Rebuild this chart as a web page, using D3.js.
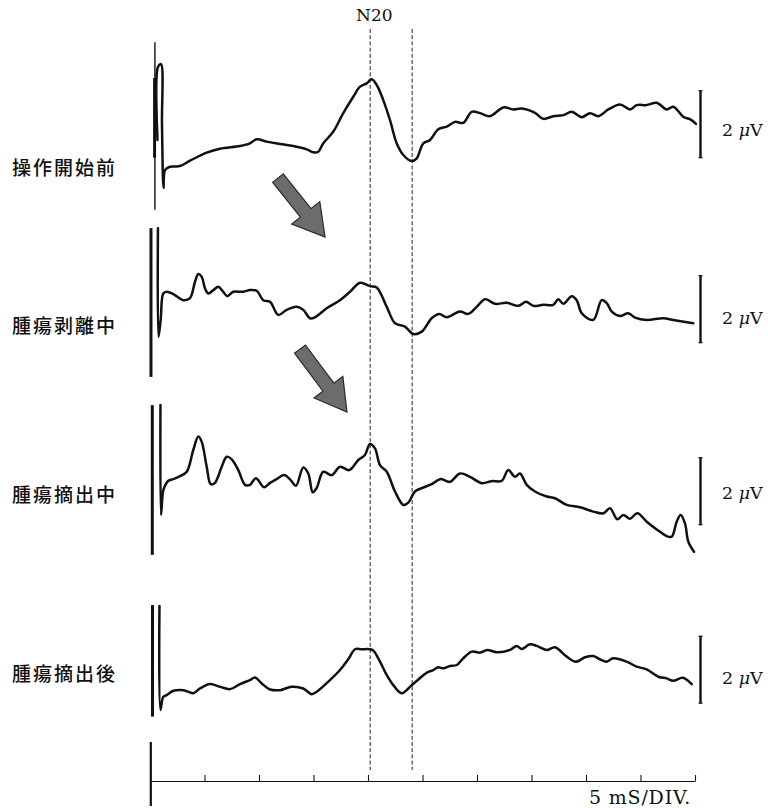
<!DOCTYPE html>
<html><head><meta charset="utf-8">
<script src="https://cdn.jsdelivr.net/npm/d3@7"></script>
<style>body{margin:0;background:#fff}svg{display:block}</style>
</head><body><svg id="c" width="768" height="808"></svg>
<script>
// ---------------- DATA ----------------
const conditions = ["操作開始前", "腫瘍剥離中", "腫瘍摘出中", "腫瘍摘出後"];
const markerLabel = "N20";
const markerTimes = [20.2, 24.05];           // ms
const timeTicks = [5, 10, 15, 20, 25, 30, 35, 40, 45, 50]; // ms
const axisLabel = "5 mS/DIV.";
const scaleBarUV = 2;                        // µV
const scaleLabelNum = "2";
const scaleLabelUnit = ["μ", "V"];

// [time ms, amplitude µV] — amplitude relative to each trace's scale-bar centre
const trace1 = [[0.69,-0.47],[0.73,1.71],[1.01,1.79],[1.10,-0.02],[1.24,-1.90],[1.38,-1.37],[1.83,-1.27],[2.75,-1.25],[3.67,-1.09],[5.20,-0.85],[6.42,-0.73],[8.26,-0.65],[9.17,-0.57],[9.79,-0.45],[10.71,-0.52],[11.93,-0.59],[13.15,-0.65],[14.38,-0.75],[14.98,-0.84],[15.44,-0.82],[15.90,-0.57],[16.82,-0.22],[17.73,0.33],[18.65,0.82],[19.27,1.12],[19.88,1.22],[20.34,1.34],[20.80,1.17],[21.40,0.72],[22.02,0.12],[22.63,-0.57],[23.24,-0.92],[24.01,-1.10],[24.47,-1.02],[25.07,-0.57],[25.69,-0.47],[26.45,-0.15],[27.22,-0.07],[27.98,0.07],[28.74,0.04],[29.51,0.37],[30.28,0.33],[31.19,0.24],[32.41,0.50],[33.33,0.44],[34.10,0.47],[35.32,0.34],[36.08,0.16],[37.00,0.24],[37.92,0.27],[38.69,0.37],[39.61,0.21],[40.37,0.33],[41.13,0.24],[42.05,0.44],[43.12,0.59],[44.04,0.44],[44.65,0.57],[45.57,0.57],[46.49,0.64],[47.40,0.44],[48.01,0.52],[48.93,0.22],[49.54,0.15],[50.09,0.01]];
const trace2 = [[0.73,2.42],[0.78,-0.83],[0.98,-0.32],[1.22,0.47],[1.53,0.52],[2.14,0.45],[3.06,0.27],[3.67,0.33],[4.13,0.82],[4.43,1.05],[4.74,0.97],[5.05,0.62],[5.35,0.47],[5.81,0.57],[6.27,0.67],[6.72,0.52],[7.09,0.39],[7.64,0.52],[8.56,0.52],[9.17,0.57],[9.79,0.55],[10.39,0.27],[11.01,0.22],[11.77,-0.17],[12.54,-0.02],[13.46,0.07],[14.06,-0.02],[14.68,-0.27],[15.14,-0.24],[16.21,0.03],[17.43,0.27],[18.35,0.52],[19.27,0.79],[20.18,0.69],[20.80,0.65],[21.72,0.07],[22.48,-0.42],[23.39,-0.52],[24.16,-0.74],[24.93,-0.67],[25.84,-0.27],[26.54,-0.14],[27.22,-0.24],[28.44,-0.07],[29.20,-0.14],[29.97,0.07],[30.73,0.30],[31.65,0.16],[32.72,0.19],[33.79,0.10],[34.50,0.22],[35.17,0.10],[36.08,0.13],[37.00,0.13],[37.46,0.30],[37.92,0.16],[38.69,0.39],[39.15,0.27],[39.61,-0.12],[40.67,-0.32],[41.44,0.27],[41.90,0.18],[42.36,-0.07],[43.12,-0.20],[43.88,-0.12],[44.50,-0.25],[45.57,-0.32],[47.09,-0.27],[48.01,-0.32],[49.84,-0.42]];
const trace3 = [[0.96,2.57],[1.01,-0.71],[1.19,-0.02],[1.33,0.13],[1.68,0.31],[2.14,0.36],[2.75,0.45],[3.37,0.58],[3.97,1.23],[4.43,1.63],[4.74,1.48],[5.20,0.73],[5.57,0.21],[5.96,0.25],[6.58,0.73],[7.04,1.03],[7.50,0.95],[8.10,0.63],[8.72,0.19],[9.17,0.19],[9.72,0.39],[10.46,0.12],[11.01,0.25],[11.62,0.36],[12.29,0.48],[12.91,0.33],[13.39,0.16],[14.06,0.71],[14.52,0.53],[14.93,-0.03],[15.28,0.09],[15.90,0.58],[16.67,0.48],[17.43,0.73],[18.28,0.63],[19.11,0.93],[19.72,1.08],[20.18,1.41],[20.64,1.28],[21.10,0.78],[21.72,0.58],[22.48,-0.01],[23.24,-0.41],[23.70,-0.34],[24.31,-0.01],[24.93,0.09],[25.84,0.21],[26.61,0.36],[27.52,0.28],[28.44,0.53],[29.36,0.43],[30.43,0.24],[31.35,0.30],[32.27,0.31],[32.87,0.63],[33.49,0.43],[33.94,0.53],[34.56,0.19],[35.32,-0.01],[36.39,-0.16],[37.16,-0.21],[38.23,-0.41],[39.45,-0.48],[40.67,-0.61],[41.59,-0.66],[42.20,-0.51],[42.87,-0.84],[43.42,-0.71],[44.04,-0.82],[44.71,-0.66],[45.57,-0.91],[46.49,-1.14],[47.40,-1.34],[47.86,-1.36],[48.32,-0.91],[48.69,-0.71],[49.08,-0.96],[49.39,-1.51],[49.91,-1.81]];
const trace4 = [[0.87,1.90],[0.96,-1.20],[1.22,-0.81],[1.53,-0.76],[2.14,-0.63],[3.06,-0.61],[3.97,-0.70],[4.59,-0.56],[5.50,-0.43],[6.42,-0.51],[7.34,-0.58],[8.26,-0.43],[9.17,-0.31],[9.63,-0.23],[10.25,-0.41],[11.01,-0.59],[11.93,-0.61],[13.00,-0.51],[14.06,-0.56],[14.83,-0.73],[15.29,-0.66],[16.51,-0.31],[17.43,-0.01],[18.19,0.31],[18.81,0.61],[19.42,0.61],[20.18,0.61],[20.49,0.57],[21.10,0.24],[21.72,-0.16],[22.32,-0.46],[23.09,-0.70],[24.01,-0.46],[24.62,-0.29],[25.39,-0.09],[25.99,-0.01],[26.45,0.07],[26.91,0.04],[27.52,0.11],[28.14,0.14],[28.74,0.34],[29.51,0.54],[30.28,0.51],[30.94,0.59],[31.81,0.52],[33.03,0.59],[33.64,0.71],[34.10,0.62],[34.86,0.76],[35.48,0.71],[36.39,0.59],[37.16,0.67],[38.23,0.39],[39.08,0.24],[39.91,0.37],[40.67,0.41],[41.28,0.31],[41.90,0.24],[42.50,0.34],[43.73,0.24],[44.65,0.09],[45.57,0.01],[46.63,-0.21],[47.40,-0.26],[48.01,-0.33],[48.87,-0.24],[49.70,-0.43]];
const traces = [trace1, trace2, trace3, trace4];

// stimulus artefact strokes: [time ms, top µV, bottom µV]
const artifact1 = [[0.45, 2.45, -2.55], [0.42, 1.38, -1.0]];
const artifact2 = [[0.09, 2.42, -2.02]];
const artifact3 = [[0.21, 2.57, -1.90]];
const artifact4 = [[0.23, 1.93, -1.40]];
const artifacts = [artifact1, artifact2, artifact3, artifact4];

// arrows: trace index, tail [ms, µV], tip [ms, µV]
const arrows = [
  {trace: 0, from: [11.74, -1.61], to: [16.06, -3.37]},
  {trace: 1, from: [13.76, -1.19], to: [18.07, -3.07]}
];

// ---------------- LAYOUT ----------------
const svg = d3.select("#c");
const serif = "'DejaVu Serif','Liberation Serif',serif";
const x = d3.scaleLinear().domain([0, 50]).range([150, 695]);
const centers = [124.2, 309.2, 491.2, 669.7];
const halfBar = 33.5;
const ys = centers.map(c => d3.scaleLinear().domain([-1, 1]).range([c + halfBar, c - halfBar]));
const labelY = [166, 324, 493, 672];
const unitY = [130, 318, 493, 678];
const barX = 700.5;

// dashed marker lines
svg.selectAll("line.marker").data(markerTimes).join("line")
  .attr("class", "marker")
  .attr("x1", d => x(d)).attr("x2", d => x(d))
  .attr("y1", 29).attr("y2", 770)
  .attr("stroke", "#222").attr("stroke-width", 1)
  .attr("stroke-dasharray", "4,2.2");

svg.append("text").text(markerLabel)
  .attr("x", 356).attr("y", 21)
  .attr("font-family", serif).attr("font-size", 17)
  .attr("fill", "#111");

// arrows
arrows.forEach(a => {
  const y = ys[a.trace];
  const p0 = [x(a.from[0]), y(a.from[1])];
  const p1 = [x(a.to[0]), y(a.to[1])];
  const dx = p1[0] - p0[0], dy = p1[1] - p0[1];
  const len = Math.hypot(dx, dy);
  const u = [dx / len, dy / len], n = [-u[1], u[0]];
  const w = 6.8, H = 18, L = 31;
  const b = [p1[0] - u[0] * L, p1[1] - u[1] * L];
  const pts = [
    [p0[0] + n[0] * w, p0[1] + n[1] * w],
    [b[0] + n[0] * w, b[1] + n[1] * w],
    [b[0] + n[0] * H, b[1] + n[1] * H],
    p1,
    [b[0] - n[0] * H, b[1] - n[1] * H],
    [b[0] - n[0] * w, b[1] - n[1] * w],
    [p0[0] - n[0] * w, p0[1] - n[1] * w]
  ];
  svg.append("polygon")
    .attr("points", pts.map(p => p.join(",")).join(" "))
    .attr("fill", "#6c6c6c").attr("stroke", "#2a2a2a").attr("stroke-width", 1.2)
    .attr("stroke-linejoin", "miter");
});

const line = d3.line().x(d => x(d[0])).curve(d3.curveCatmullRom.alpha(0.5));

traces.forEach((tr, i) => {
  const y = ys[i];
  const g = svg.append("g");
  // artefact strokes
  g.selectAll("line.art").data(artifacts[i]).join("line")
    .attr("x1", d => x(d[0])).attr("x2", d => x(d[0]))
    .attr("y1", d => y(d[1])).attr("y2", d => y(d[2]))
    .attr("stroke", "#111").attr("stroke-width", (d, j) => j === 0 && i === 0 ? 1.4 : 3);
  // waveform
  g.append("path").datum(tr)
    .attr("d", line.y(d => y(d[1])))
    .attr("fill", "none").attr("stroke", "#111")
    .attr("stroke-width", 2.5).attr("stroke-linejoin", "round").attr("stroke-linecap", "round");
  // scale bar (2 µV)
  g.append("line")
    .attr("x1", barX).attr("x2", barX)
    .attr("y1", y(scaleBarUV / 2)).attr("y2", y(-scaleBarUV / 2))
    .attr("stroke", "#111").attr("stroke-width", 2.4);
  [scaleBarUV / 2, -scaleBarUV / 2].forEach(v => {
    g.append("line").attr("x1", barX - 2).attr("x2", barX + 2)
      .attr("y1", y(v)).attr("y2", y(v)).attr("stroke", "#111").attr("stroke-width", 1.2);
  });
  const t = g.append("text")
    .attr("x", 722).attr("y", unitY[i])
    .attr("dominant-baseline", "central")
    .attr("font-family", serif).attr("font-size", 17.5).attr("fill", "#111");
  t.append("tspan").text(scaleLabelNum + " ");
  t.append("tspan").attr("font-style", "italic").text(scaleLabelUnit[0]);
  t.append("tspan").text(scaleLabelUnit[1]);
  // condition label
  g.append("text").text(conditions[i])
    .attr("x", 12).attr("y", labelY[i])
    .attr("dominant-baseline", "central")
    .attr("font-family", "'Noto Sans CJK JP','Noto Sans CJK SC',sans-serif")
    .attr("font-size", 19).attr("font-weight", 500)
    .attr("letter-spacing", 2)
    .attr("fill", "#111");
});

// time axis
const axisG = svg.append("g").attr("transform", "translate(0,781)")
  .call(d3.axisTop(x).tickValues(timeTicks).tickSize(6).tickSizeOuter(0).tickFormat(""));
axisG.select(".domain").attr("stroke", "#111").attr("stroke-width", 1.2);
axisG.selectAll(".tick line").attr("stroke", "#111").attr("stroke-width", 1.1);

svg.append("line")
  .attr("x1", x(0) + 0.8).attr("x2", x(0) + 0.8)
  .attr("y1", 742).attr("y2", 806)
  .attr("stroke", "#111").attr("stroke-width", 2.2);

svg.append("text").text(axisLabel)
  .attr("x", 691).attr("y", 804)
  .attr("text-anchor", "end")
  .attr("font-family", serif).attr("font-size", 19)
  .attr("letter-spacing", 0.8)
  .attr("fill", "#111");
</script></body></html>
